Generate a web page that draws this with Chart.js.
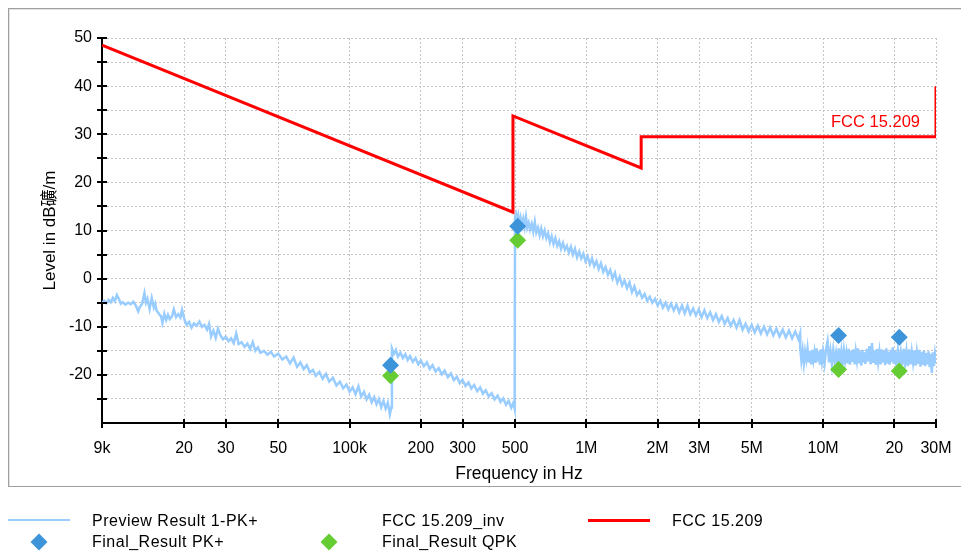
<!DOCTYPE html>
<html><head><meta charset="utf-8">
<script src="https://cdn.jsdelivr.net/npm/chart.js@4/dist/chart.umd.min.js"></script>
<style>
html,body{margin:0;padding:0;background:#fff;width:961px;height:552px;overflow:hidden;font-family:"Liberation Sans","Noto Sans CJK SC",sans-serif;}
#frame{position:absolute;left:8px;top:8px;width:980px;height:477px;border:1px solid #a0a0a0;box-shadow:inset 1px 1px 0 #e2e2e2;}
#c{position:absolute;left:0;top:0;}
.lg{position:absolute;font-size:16px;letter-spacing:0.5px;color:#000;line-height:20px;white-space:nowrap;}
.ln{position:absolute;}
.dm{position:absolute;width:12px;height:12px;transform:rotate(45deg);}
</style></head>
<body>
<div id="frame"></div>
<canvas id="c" width="961" height="552"></canvas>
<div class="ln" style="left:8px;top:519px;width:62px;height:2px;background:#99ccff"></div>
<div class="lg" style="left:92px;top:511px">Preview Result 1-PK+</div>
<div class="lg" style="left:382px;top:511px">FCC 15.209_inv</div>
<div class="ln" style="left:588px;top:518.5px;width:62px;height:3px;background:#ff0000"></div>
<div class="lg" style="left:672px;top:511px">FCC 15.209</div>
<div class="dm" style="left:33px;top:535.5px;background:#3d94d9"></div>
<div class="lg" style="left:92px;top:532px">Final_Result PK+</div>
<div class="dm" style="left:323px;top:535.5px;background:#66cc33"></div>
<div class="lg" style="left:382px;top:532px">Final_Result QPK</div>
<script>
// ---- axis ticks ----
const xTickValues = [9e3,2e4,3e4,5e4,1e5,2e5,3e5,5e5,1e6,2e6,3e6,5e6,1e7,2e7,3e7];
const xTickLabels = ['9k','20','30','50','100k','200','300','500','1M','2M','3M','5M','10M','20','30M'];
const yMin = -30, yMax = 50, yStep = 5;

// ---- FCC 15.209 limit (kHz, dBuV/m) ----
const limitFreqKHz = [9, 490, 490, 1705, 1705, 30000, 30000];
const limitLevel   = [48.5, 13.8, 33.8, 23.0, 29.5, 29.5, 40.0];

// ---- final results ----
const finalFreqKHz = [149, 513, 11630, 20980];
const finalPK  = [-18.0, 10.9, -11.8, -12.2];
const finalQPK = [-20.2, 8.0, -18.9, -19.2];

// ---- preview trace, [kHz, dB] ----
const previewSeg1 = [
[9.0,-5.0],[9.2,-4.6],[9.4,-5.1],[9.6,-4.4],[9.8,-4.9],[10.0,-4.0],[10.2,-4.7],[10.4,-3.4],[10.6,-4.2],[10.8,-5.2],
[11.0,-4.9],[11.3,-5.4],[11.6,-5.0],[11.9,-5.3],[12.2,-4.8],[12.5,-5.6],[12.8,-6.8],[13.0,-5.9],[13.3,-5.2],[13.6,-3.0],
[13.8,-5.0],[14.0,-4.2],[14.3,-6.3],[14.6,-4.0],[14.9,-6.0],[15.1,-5.2],[15.3,-6.6],[15.7,-7.4],[16.0,-7.9],[16.2,-9.2],
[16.5,-7.3],[16.8,-8.6],[17.1,-7.5],[17.4,-8.4],[17.8,-7.8],[18.1,-6.4],[18.5,-8.0],[18.9,-7.4],[19.3,-8.1],[19.6,-6.5],
[20.1,-8.6],[20.5,-9.6],[21.0,-9.0],[21.5,-10.2],[22.0,-9.3],[22.6,-9.8],[23.2,-8.9],[23.8,-10.0],[24.4,-9.6],[25.0,-10.6],
[25.5,-9.4],[26.0,-12.0],[26.6,-10.8],[27.2,-12.3],[27.8,-10.4],[28.5,-11.8],[29.2,-12.6],[30.0,-12.1],[30.8,-13.0],[31.6,-12.4],
[32.4,-13.4],[33.2,-11.4],[34.0,-13.6],[35.0,-13.2],[36.0,-14.2],[37.0,-13.5],[38.0,-14.6],[39.0,-13.2],[40.0,-15.0],[41.0,-14.3],
[42.0,-15.4],[43.5,-15.0],[45.0,-15.8],[46.5,-15.2],[48.0,-16.2],[50.0,-15.6],[52.0,-16.8],[54.0,-16.2],[56.0,-17.6],[58.0,-16.4],
[60.0,-18.3],[62.0,-17.4],[64.0,-18.8],[66.0,-18.0],[68.0,-19.5],[70.0,-19.0],[72.0,-20.2],[74.5,-19.4],[77.0,-20.8],[79.5,-19.8],
[82.0,-21.4],[85.0,-20.6],[88.0,-22.2],[91.0,-21.4],[94.0,-22.8],[97.0,-22.0],[100.0,-23.5],[103.0,-22.6],[106.0,-24.0],[109.0,-22.4],
[112.0,-24.5],[115.0,-23.5],[118.0,-25.1],[121.0,-24.1],[124.0,-25.7],[127.0,-24.6],[130.0,-26.1],[133.0,-25.0],[136.0,-26.7],[139.0,-25.4],
[142.0,-27.0],[145.0,-25.8],[148.0,-28.2],[150.0,-26.8]
];
const previewSeg2 = [
[151,-14.5],[154,-15.6],[157,-14.8],[160,-16.2],[164,-15.4],[168,-16.5],[172,-15.7],[176,-16.9],[180,-16.1],[185,-17.3],
[190,-16.5],[195,-17.8],[200,-17.0],[206,-18.2],[212,-17.4],[218,-18.8],[224,-18.0],[231,-19.3],[238,-18.6],[245,-19.9],
[252,-19.1],[260,-20.5],[268,-19.7],[276,-21.1],[284,-20.4],[292,-21.7],[300,-21.0],[309,-22.3],[318,-21.6],[327,-22.8],
[336,-22.1],[346,-23.4],[356,-22.6],[366,-23.9],[376,-23.2],[387,-24.5],[398,-23.8],[410,-25.1],[422,-24.3],[434,-25.6],
[446,-24.9],[458,-26.2],[470,-25.4],[482,-26.8],[492,-25.8],[498,-27.0]
];
const previewSeg3 = [
[500,12.8],[505,13.4],[510,11.6],[516,13.0],[522,11.2],[528,12.6],[535,11.0],[542,12.4],[549,10.8],[556,12.8],
[563,10.6],[571,11.6],[579,10.2],[588,11.4],[597,9.8],[606,11.8],[615,9.6],[625,10.6],[635,9.0],[645,10.4],
[656,8.8],[667,10.0],[678,8.4],[690,9.4],[702,7.6],[714,8.8],[727,7.2],[740,8.4],[754,6.8],[768,7.8],
[782,6.2],[797,7.4],[812,6.0],[828,6.8],[844,5.4],[861,6.6],[878,5.0],[896,6.2],[914,4.4],[933,5.6],
[952,4.2],[972,5.2],[992,3.6],[1013,4.6],[1035,3.0],[1057,4.2],[1080,2.6],[1104,3.6],[1128,2.0],[1153,3.2],
[1179,1.4],[1206,2.4],[1234,0.8],[1262,1.8],[1291,0.0],[1321,1.2],[1352,-0.8],[1384,0.4],[1417,-1.4],[1451,-0.4],
[1486,-2.0],[1522,-0.8],[1559,-2.8],[1597,-1.6],[1637,-3.4],[1678,-2.6],[1720,-4.0],[1763,-3.2],[1808,-4.6],[1854,-3.8],
[1902,-5.0],[1951,-4.2],[2002,-5.6],[2054,-4.6],[2108,-6.0],[2164,-5.0],[2221,-6.4],[2280,-5.2],[2341,-6.6],[2404,-5.4],
[2469,-7.0],[2536,-5.6],[2605,-7.2],[2676,-5.6],[2750,-7.4],[2826,-6.2],[2904,-7.6],[2985,-6.4],[3068,-8.0],[3154,-6.6],
[3243,-8.2],[3335,-7.0],[3430,-8.6],[3528,-7.4],[3629,-9.0],[3734,-7.8],[3842,-9.4],[3954,-8.2],[4070,-9.8],[4189,-8.6],
[4312,-10.2],[4440,-8.6],[4572,-10.6],[4708,-9.4],[4849,-11.0],[4995,-9.6],[5146,-11.2],[5302,-9.8],[5463,-11.4],[5630,-10.0],
[5802,-11.6],[5980,-10.2],[6164,-11.8],[6354,-10.4],[6550,-12.0],[6753,-10.6],[6962,-12.2],[7178,-10.8],[7401,-12.4],[7631,-11.0],
[7869,-12.6],[8000,-11.4]
];
const previewSeg4 = [
[8010,-14.4],[8100,-17.0],[8200,-14.9],[8300,-17.6],[8400,-15.2],[8500,-16.8],[8600,-14.6],[8700,-17.4],[8800,-15.0],[8900,-17.8],
[9000,-14.8],[9100,-16.9],[9200,-15.3],[9300,-17.5],[9400,-14.5],[9500,-17.2],[9600,-15.1],[9700,-17.9],[9800,-14.7],[9900,-17.1],
[10000,-15.2],[10150,-17.6],[10300,-14.6],[10450,-13.0],[10600,-17.4],[10750,-15.0],[10900,-17.8],[11050,-14.8],[11200,-17.2],[11350,-15.4],
[11500,-17.7],[11650,-14.5],[11800,-17.3],[11950,-15.1],[12100,-18.0],[12250,-14.9],[12400,-17.1],[12550,-15.3],[12700,-17.6],[12850,-14.6],
[13000,-17.9],[13150,-15.0],[13300,-17.3],[13450,-14.7],[13600,-17.8],[13750,-15.2],[13900,-17.0],[14050,-14.5],[14200,-17.6],[14350,-15.1],
[14500,-18.1],[14650,-14.8],[14800,-17.4],[14950,-15.3],[15100,-17.7],[15300,-14.6],[15500,-17.2],[15700,-14.0],[15900,-17.8],[16100,-13.4],
[16300,-17.5],[16500,-14.9],[16700,-17.9],[16900,-14.6],[17100,-17.3],[17300,-15.2],[17500,-17.8],[17700,-14.7],[17900,-17.4],[18100,-15.0],
[18300,-18.0],[18500,-14.5],[18700,-17.6],[18900,-15.2],[19100,-17.9],[19300,-14.8],[19500,-17.3],[19700,-14.3],[19900,-17.7],[20100,-15.0],
[20400,-18.1],[20700,-14.9],[21000,-17.5],[21300,-15.3],[21600,-18.0],[21900,-14.6],[22200,-17.6],[22500,-15.1],[22800,-18.2],[23100,-14.7],
[23400,-17.8],[23700,-15.2],[24000,-17.4],[24300,-14.9],[24600,-18.1],[24900,-15.4],[25200,-17.7],[25500,-14.8],[25800,-18.3],[26100,-15.2],
[26400,-17.9],[26700,-15.0],[27000,-18.2],[27300,-15.5],[27600,-17.8],[27900,-15.1],[28200,-18.4],[28500,-15.6],[28800,-19.6],[29100,-15.3],
[29400,-18.2],[29700,-15.8],[30000,-17.6]
];

const FONT = '"Liberation Sans","Noto Sans CJK SC",sans-serif';
const toPts = (f, v) => f.map((k, i) => ({x: k * 1000, y: v[i]}));
const previewPts = [].concat(previewSeg1, previewSeg2, previewSeg3, previewSeg4).map(p => ({x: p[0] * 1000, y: p[1]}));

const decor = {
  id: 'decor',
  afterDatasetsDraw(chart) {
    const {ctx, scales} = chart;
    const xs = scales.x, ys = scales.y;
    ctx.save();
    ctx.fillStyle = '#ff0000';
    ctx.font = '16.5px ' + FONT;
    ctx.textAlign = 'right';
    ctx.textBaseline = 'middle';
    ctx.fillText('FCC 15.209', xs.getPixelForValue(limitFreqKHz[limitFreqKHz.length - 1] * 1000) - 16,
                 ys.getPixelForValue(limitLevel[limitLevel.length - 2]) - 14);
    ctx.restore();
  },
  afterDraw(chart) {
    const {ctx, chartArea, scales} = chart;
    const xs = scales.x, ys = scales.y;
    ctx.save();
    ctx.strokeStyle = '#000';
    ctx.lineWidth = 2;
    ctx.beginPath();
    for (let v = yMin + yStep; v <= yMax; v += yStep) {
      const y = Math.round(ys.getPixelForValue(v));
      ctx.moveTo(chartArea.left - 5, y);
      ctx.lineTo(chartArea.left + 5, y);
    }
    xTickValues.forEach(v => {
      const x = Math.round(xs.getPixelForValue(v));
      ctx.moveTo(x, chartArea.bottom - 4);
      ctx.lineTo(x, chartArea.bottom + 5);
    });
    ctx.stroke();
    ctx.restore();
  }
};

new Chart(document.getElementById('c'), {
  type: 'line',
  data: {
    datasets: [
      {label: 'Final_Result PK+', data: toPts(finalFreqKHz, finalPK), showLine: false, pointStyle: 'rectRot',
       pointRadius: 8.5, backgroundColor: '#3d94d9', borderColor: '#3d94d9', borderWidth: 0, order: 0},
      {label: 'Final_Result QPK', data: toPts(finalFreqKHz, finalQPK), showLine: false, pointStyle: 'rectRot',
       pointRadius: 8.5, backgroundColor: '#66cc33', borderColor: '#66cc33', borderWidth: 0, order: 0},
      {label: 'FCC 15.209', data: toPts(limitFreqKHz, limitLevel), borderColor: '#ff0000', borderWidth: 3,
       pointRadius: 0, tension: 0, fill: false, order: 1},
      {label: 'Preview Result 1-PK+', data: previewPts, borderColor: '#99ccff', borderWidth: 2.5,
       pointRadius: 0, tension: 0, fill: false, order: 2}
    ]
  },
  options: {
    responsive: false, animation: false, devicePixelRatio: 1,
    layout: {padding: {left: 0, top: 38, right: 25, bottom: 59}},
    plugins: {legend: {display: false}, tooltip: {enabled: false}},
    scales: {
      x: {
        type: 'logarithmic', min: 9000, max: 3e7,
        afterBuildTicks: s => { s.ticks = xTickValues.map(v => ({value: v})); },
        afterFit: s => { s.height = 70; },
        ticks: {autoSkip: false, maxRotation: 0, padding: 6, color: '#000', font: {family: FONT, size: 16, lineHeight: 2.5},
                callback: (v, i) => xTickLabels[i]},
        grid: {color: '#c4c4c4', lineWidth: 1, drawTicks: false},
        border: {display: true, color: '#000', width: 2, dash: [2, 2]},
        title: {display: true, text: 'Frequency in Hz', color: '#000', font: {family: FONT, size: 17.5}, padding: {top: 0, bottom: 8}}
      },
      y: {
        min: yMin, max: yMax,
        afterFit: s => { s.width = 102; },
        ticks: {stepSize: yStep, padding: 10, color: '#000', font: {family: FONT, size: 16},
                callback: v => (v > yMin && v % 10 === 0) ? String(v) : ''},
        grid: {color: '#c4c4c4', lineWidth: 1, drawTicks: false},
        border: {display: true, color: '#000', width: 2, dash: [2, 2]},
        title: {display: true, text: 'Level in dB礦/m', color: '#000', font: {family: FONT, size: 17}, padding: {top: 40, bottom: 0}}
      }
    }
  },
  plugins: [decor]
});
</script>
</body></html>
